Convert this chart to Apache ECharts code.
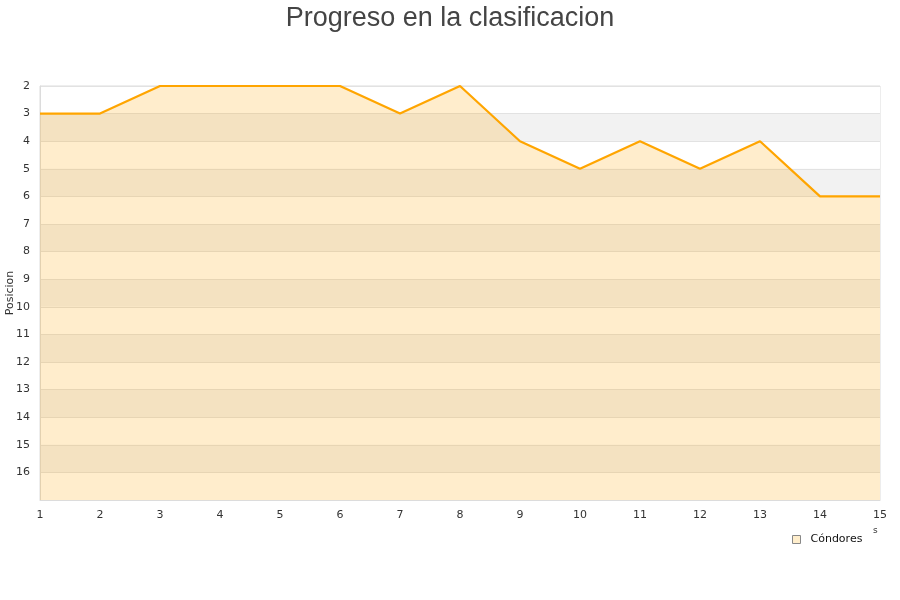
<!DOCTYPE html>
<html>
<head>
<meta charset="utf-8">
<script src="https://cdn.jsdelivr.net/npm/echarts@6/dist/echarts.min.js"></script>
<style>
  html, body { margin: 0; padding: 0; background: #fff; }
  #chart { width: 900px; height: 600px; }
</style>
</head>
<body>
<div id="chart"></div>
<script>
// Jornadas (matchdays) and the team's league position after each one
const jornadas = [1, 2, 3, 4, 5, 6, 7, 8, 9, 10, 11, 12, 13, 14, 15];
const posiciones = [3, 3, 2, 2, 2, 2, 3, 2, 4, 5, 4, 5, 4, 6, 6];
const equipo = 'Cóndores';
const titulo = 'Progreso en la clasificacion';
const posMin = 2;
const posMax = 17;

const chart = echarts.init(document.getElementById('chart'), null, { renderer: 'canvas' });

const labelFont = 'DejaVu Sans';

chart.setOption({
  animation: false,
  backgroundColor: '#ffffff',
  title: {
    text: titulo,
    left: 'center',
    top: 0,
    textStyle: {
      fontFamily: 'Liberation Sans',
      fontSize: 27,
      fontWeight: 'normal',
      color: '#444444'
    }
  },
  legend: {
    data: [equipo],
    left: 787,
    top: 529,
    icon: 'rect',
    itemWidth: 8,
    itemHeight: 8,
    itemGap: 8,
    textStyle: { fontFamily: labelFont, fontSize: 11, color: '#111', padding: [0, 0, 0, 5] },
    itemStyle: { color: '#FFEECC', borderColor: '#888', borderWidth: 1 }
  },
  grid: {
    left: 40,
    right: 20,
    top: 86,
    bottom: 100,
    containLabel: false,
    outerBoundsMode: 'none',
    show: true,
    borderColor: '#dcdcdc',
    borderWidth: 1,
    backgroundColor: 'transparent'
  },
  xAxis: {
    type: 'value',
    min: 1,
    max: 15,
    interval: 1,
    axisLine: { show: true, lineStyle: { color: '#dcdcdc' } },
    axisTick: { show: false },
    splitLine: { show: false },
    axisLabel: {
      fontFamily: labelFont,
      fontSize: 11,
      color: '#333',
      margin: 10
    }
  },
  yAxis: {
    type: 'value',
    inverse: true,
    min: posMin,
    max: posMax,
    interval: 1,
    name: 'Posicion',
    nameLocation: 'middle',
    nameGap: 24,
    nameMoveOverlap: false,
    nameRotate: 90,
    nameTextStyle: { fontFamily: labelFont, fontSize: 11, color: '#333' },
    axisLine: { show: true, lineStyle: { color: '#dcdcdc' } },
    axisTick: { show: false },
    axisLabel: {
      fontFamily: labelFont,
      fontSize: 11,
      color: '#333',
      margin: 10,
      formatter: v => (v >= posMax ? '' : String(v))
    },
    splitLine: { show: true, lineStyle: { color: '#e2e2e2', width: 1 } },
    splitArea: { show: true, areaStyle: { color: ['#ffffff', '#f2f2f2'] } }
  },
  series: [{
    name: equipo,
    type: 'line',
    data: jornadas.map((j, i) => [j, posiciones[i]]),
    symbol: 'none',
    clip: false,
    lineStyle: { color: '#FFA500', width: 2.2 },
    itemStyle: { color: '#FFEECC' },
    areaStyle: { color: '#FFA500', opacity: 0.2, origin: 'end' }
  }],
  graphic: [{
    type: 'text',
    left: 873,
    top: 526,
    style: { text: 's', fontFamily: labelFont, fontSize: 9, fill: '#333' }
  }]
});
</script>
</body>
</html>
